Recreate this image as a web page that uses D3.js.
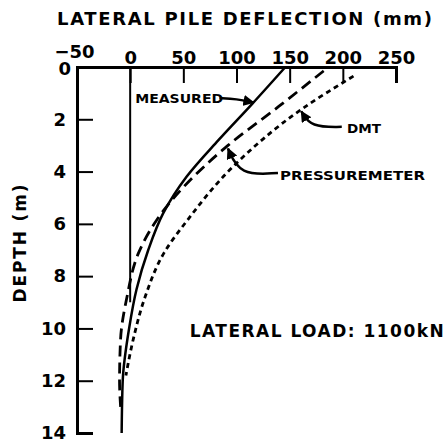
<!DOCTYPE html>
<html>
<head>
<meta charset="utf-8">
<script src="https://cdn.jsdelivr.net/npm/d3@7"></script>
<style>
  body { margin: 0; background: #fff; }
  svg { display: block; }
  text { font-family: "DejaVu Sans", sans-serif; font-weight: bold; fill: #000; }
</style>
</head>
<body>
<svg id="chart"></svg>
<script>
const width = 446;
const height = 443;

// tick labels
const xTicks = [-50, 0, 50, 100, 150, 200, 250];
const yTicks = [0, 2, 4, 6, 8, 10, 12, 14];

// curves: depth (m) and deflection (mm)
const measuredDepth = [0, 1.4, 2.8, 4.2, 5.6, 7.0, 8.5, 10, 12, 14];
const measuredDefl = [146, 115, 83, 53, 31, 17, 6, -1, -7, -8];

const pressDepth = [0.15, 1.5, 3.0, 4.6, 5.85, 7.1, 8.8, 10.4, 12.0, 13.0];
const pressDefl = [182, 140, 92, 50, 25, 8, -3, -9, -10, -9];

const dmtDepth = [0.35, 1.65, 3.8, 5.85, 7.1, 8.8, 10.4, 11.8];
const dmtDefl = [210, 160, 97, 54, 32, 14, 3, -4];

const pileDepth = [0, 9];
const pileDefl = [0, 0];

const svg = d3.select("#chart")
    .attr("width", width)
    .attr("height", height);

const x = d3.scaleLinear().domain([-50, 250]).range([77, 396]);
const y = d3.scaleLinear().domain([0, 14]).range([67, 433]);

// arrow head
svg.append("defs").append("marker")
    .attr("id", "arrow")
    .attr("viewBox", "0 0 10 10")
    .attr("refX", 9).attr("refY", 5)
    .attr("markerWidth", 4.5).attr("markerHeight", 4.5)
    .attr("markerUnits", "strokeWidth")
    .attr("orient", "auto")
    .append("path")
    .attr("d", "M0,0L10,5L0,10Z")
    .attr("fill", "#000");

// axes
const xAxis = svg.append("g")
    .attr("transform", `translate(0,${y(0)})`)
    .call(d3.axisTop(x).tickValues(xTicks).tickSize(-16).tickPadding(3).tickFormat(d3.format("d")));

const yAxis = svg.append("g")
    .attr("transform", `translate(${x(-50)},0)`)
    .call(d3.axisLeft(y).tickValues(yTicks).tickSize(-16).tickPadding(11).tickFormat(d3.format("d")));

[xAxis, yAxis].forEach(ax => {
    ax.select(".domain").attr("stroke", "#000").attr("stroke-width", 3);
    ax.selectAll(".tick line").attr("stroke", "#000").attr("stroke-width", 2);
    ax.selectAll(".tick text")
        .attr("font-family", "DejaVu Sans")
        .attr("font-weight", "bold")
        .attr("font-size", 18)
        .attr("fill", "#000");
});
xAxis.selectAll(".tick text").filter(d => d === -50).attr("dx", -3).attr("dy", -6);
yAxis.selectAll(".tick text").filter(d => d === 0).attr("dx", 5).attr("dy", "0.42em");

const line = d3.line()
    .x(d => x(d[0]))
    .y(d => y(d[1]))
    .curve(d3.curveMonotoneY);

const zip = (xs, ys) => xs.map((v, i) => [v, ys[i]]);

// undeflected pile
svg.append("path")
    .attr("d", d3.line().x(d => x(d[0])).y(d => y(d[1]))(zip(pileDefl, pileDepth)))
    .attr("fill", "none").attr("stroke", "#000").attr("stroke-width", 2);

svg.append("path")
    .attr("d", line(zip(measuredDefl, measuredDepth)))
    .attr("fill", "none").attr("stroke", "#000").attr("stroke-width", 2.5);

svg.append("path")
    .attr("d", line(zip(pressDefl, pressDepth)))
    .attr("fill", "none").attr("stroke", "#000").attr("stroke-width", 2.8)
    .attr("stroke-dasharray", "11,6");

svg.append("path")
    .attr("d", line(zip(dmtDefl, dmtDepth)))
    .attr("fill", "none").attr("stroke", "#000").attr("stroke-width", 2.8)
    .attr("stroke-dasharray", "5,4");

// labels
svg.append("text")
    .attr("x", 57).attr("y", 25)
    .attr("font-size", 18)
    .attr("textLength", 375).attr("lengthAdjust", "spacing")
    .text("LATERAL PILE DEFLECTION (mm)");

svg.append("text")
    .attr("transform", `translate(26,${y(6.75)}) rotate(-90)`)
    .attr("text-anchor", "middle")
    .attr("font-size", 17)
    .attr("textLength", 118).attr("lengthAdjust", "spacing")
    .text("DEPTH (m)");

svg.append("text")
    .attr("x", x(56)).attr("y", y(10.05) + 7)
    .attr("font-size", 17)
    .attr("textLength", 254).attr("lengthAdjust", "spacing")
    .text("LATERAL LOAD: 1100kN");

// annotations
const notes = [
    { label: "MEASURED", tx: 4.7, ty: 1.19, len: 88, path: [[84, 1.19], [100, 1.22], [116, 1.36]] },
    { label: "DMT", tx: 204, ty: 2.33, len: 34, path: [[199, 2.29], [170, 2.3], [161, 1.7]] },
    { label: "PRESSUREMETER", tx: 141, ty: 4.13, len: 145, path: [[139, 4.05], [103, 4.15], [92, 3.12]] }
];

notes.forEach(n => {
    svg.append("text")
        .attr("x", x(n.tx)).attr("y", y(n.ty) + 5)
        .attr("font-size", 13)
        .attr("textLength", n.len).attr("lengthAdjust", "spacingAndGlyphs")
        .text(n.label);
    svg.append("path")
        .attr("d", d3.line().x(d => x(d[0])).y(d => y(d[1])).curve(d3.curveBasis)(n.path))
        .attr("fill", "none").attr("stroke", "#000").attr("stroke-width", 2.5)
        .attr("marker-end", "url(#arrow)");
});
</script>
</body>
</html>
